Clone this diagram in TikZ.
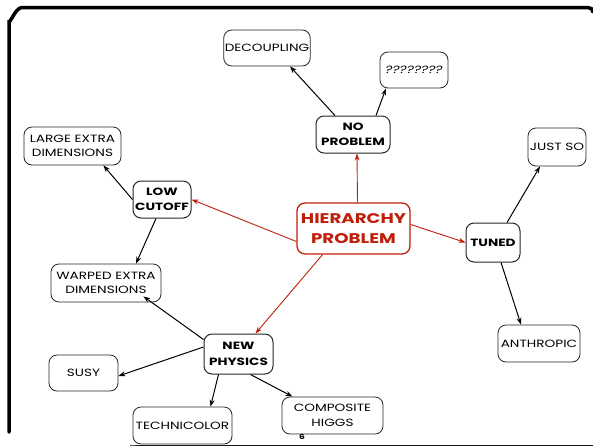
\documentclass[tikz,border=0pt]{standalone}
\usepackage{fontspec}
\setmainfont{Poppins}[FakeStretch=1.3]
\usetikzlibrary{arrows.meta}
\definecolor{hred}{RGB}{190,30,10}
\tikzset{
  box/.style={draw=black!85, line width=0.8pt, rounded corners=8pt, align=center,
    font=\fontsize{10.5}{14.5}\selectfont, inner sep=1pt, fill=white},
  boldbox/.style={box, line width=1pt, font=\fontsize{10.5}{15.5}\selectfont\bfseries},
  hbox/.style={draw=hred, line width=1.3pt, rounded corners=8pt, align=center, text=hred,
    font=\fontsize{14}{19.5}\selectfont\bfseries, inner sep=1pt, fill=white},
  conn/.style={draw=black, line width=1pt, -{Stealth[length=7pt,width=5pt]}},
  rconn/.style={draw=hred, line width=0.9pt, -{Stealth[length=7pt,width=5pt]}},
}
\begin{document}
\begin{tikzpicture}[x=1pt,y=-1pt]
\useasboundingbox (0,0) rectangle (593,447);
% frame
\draw[line width=3.5pt, line cap=round] (9,432) -- (9,20) to[out=-90,in=180] (22,7.5) -- (588,7.5) to[out=0,in=90] (593,12);
\draw[black!60, line width=1pt] (130,445) -- (593,445);
\draw[black!90, line width=0.5pt] (135,445.5) -- (593,445.5);
% nodes
\node[box, minimum width=86pt, minimum height=36pt] (dec) at (267,48) {DECOUPLING};
\node[box, minimum width=68pt, minimum height=36pt] (qq) at (414,70) {\itshape ????????};
\node[boldbox, minimum width=74pt, minimum height=37pt] (nop) at (353,134.5) {NO\\PROBLEM};
\node[box, minimum width=97pt, minimum height=38pt] (led) at (72.5,146) {LARGE EXTRA\\DIMENSIONS};
\node[boldbox, minimum width=58pt, minimum height=37pt] (low) at (162,199.5) {LOW\\CUTOFF};
\node[hbox, minimum width=113pt, minimum height=51pt] (hp) at (353.5,228.5) {HIERARCHY\\PROBLEM};
\node[box, minimum width=58pt, minimum height=38pt] (js) at (557,147) {JUST SO};
\node[boldbox, minimum width=54pt, minimum height=39pt] (tun) at (493,242.5) {TUNED};
\node[box, minimum width=82pt, minimum height=37pt] (anth) at (539,343.5) {ANTHROPIC};
\node[box, minimum width=110pt, minimum height=38pt] (wed) at (106,283) {WARPED EXTRA\\DIMENSIONS};
\node[boldbox, minimum width=69pt, minimum height=40pt] (np) at (238.5,354) {NEW\\PHYSICS};
\node[box, minimum width=69pt, minimum height=36pt] (susy) at (83.5,373) {SUSY};
\node[box, minimum width=99pt, minimum height=37pt] (tc) at (182.5,425.5) {TECHNICOLOR};
\node[box, minimum width=101pt, minimum height=37pt] (ch) at (332.5,415.5) {COMPOSITE\\HIGGS};
\node[font=\fontsize{7}{7}\selectfont\bfseries, inner sep=0pt] (pg) at (302,437) {6};
% red connectors
\draw[rconn] ([xshift=4pt]hp.north) -- ([xshift=4pt]nop.south);
\draw[rconn] ([yshift=-13pt]hp.west) -- (low.east);
\draw[rconn] ([yshift=4pt]hp.east) -- (tun.west);
\draw[rconn] ([xshift=-31pt]hp.south) -- ([xshift=17pt]np.north);
% black connectors
\draw[conn] ([xshift=-18pt]nop.north) -- ([xshift=23pt]dec.south);
\draw[conn] ([xshift=23pt]nop.north) -- ([xshift=-28pt]qq.south);
\draw[conn] (low.west) -- ([xshift=-18pt]led.south east);
\draw[conn] ([xshift=-6pt]low.south) -- ([xshift=30pt]wed.north);
\draw[conn] ([xshift=14pt]tun.north) -- ([xshift=-17pt]js.south);
\draw[conn] ([xshift=8pt]tun.south) -- ([xshift=-18pt]anth.north);
\draw[conn] ([yshift=-6pt]np.north west) -- ([xshift=-18pt,yshift=6pt]wed.south east);
\draw[conn] ([yshift=7pt]np.west) -- ([yshift=-3pt]susy.east);
\draw[conn] ([xshift=-20pt]np.south) -- ([xshift=28pt]tc.north);
\draw[conn] ([xshift=12pt]np.south) -- ([xshift=-40pt]ch.north);
\end{tikzpicture}
\end{document}
